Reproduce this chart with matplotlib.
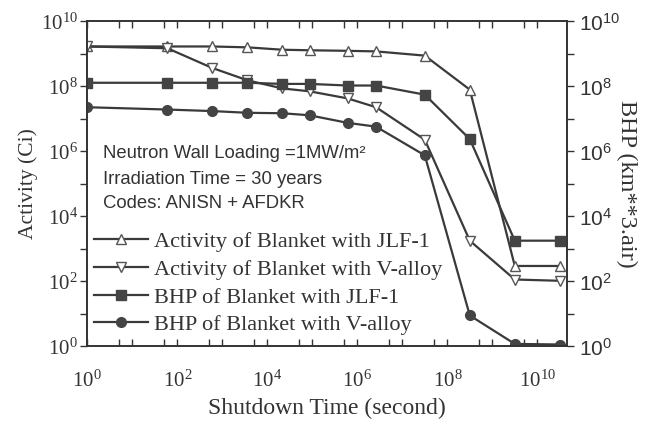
import numpy as np
import matplotlib
matplotlib.use('Agg')
import matplotlib.pyplot as plt
from matplotlib.ticker import FixedLocator, FuncFormatter, NullFormatter

plt.rcParams['mathtext.fontset'] = 'custom'
plt.rcParams['mathtext.rm'] = 'Liberation Serif'
plt.rcParams['mathtext.it'] = 'Liberation Serif:italic'
plt.rcParams['mathtext.bf'] = 'Liberation Serif:bold'
plt.rcParams['mathtext.sf'] = 'Liberation Sans'

# shutdown times (s)
times = [1, 60, 600, 3600, 2.16e4, 8.64e4, 6.05e5, 2.6e6, 3.15e7, 3.15e8, 3.15e9, 3.15e10]

# activity (Ci)
act_jlf = [1.7e9, 1.7e9, 1.7e9, 1.6e9, 1.35e9, 1.3e9, 1.25e9, 1.2e9, 8.9e8, 8.0e7, 3.0e2, 3.0e2]
act_v = [1.7e9, 1.5e9, 3.7e8, 1.55e8, 8.7e7, 7.1e7, 4.3e7, 2.3e7, 2.3e6, 1.8e3, 1.15e2, 1.05e2]

# BHP (km**3 air)
bhp_jlf = [1.3e8, 1.3e8, 1.3e8, 1.3e8, 1.2e8, 1.2e8, 1.07e8, 1.07e8, 5.6e7, 2.4e6, 1.8e3, 1.8e3]
bhp_v = [2.3e7, 1.95e7, 1.75e7, 1.55e7, 1.5e7, 1.3e7, 7.6e6, 5.8e6, 7.6e5, 9.0e0, 1.2e0, 1.15e0]

labels = ['Activity of Blanket with JLF-1', 'Activity of Blanket with V-alloy',
          'BHP of Blanket with JLF-1', 'BHP of Blanket with V-alloy']

lc = '#3a3a3a'
serif = 'Liberation Serif'
sans = 'Liberation Sans'

fig = plt.figure(figsize=(6.47, 4.21), dpi=100)
ax = fig.add_axes([0.135, 0.177, 0.741, 0.772])
ax2 = ax.twinx()

h1, = ax.plot(times, act_jlf, '-', color=lc, lw=1.6, marker='^', ms=7.5,
              mfc='white', mec='#555555', mew=1.0)
h2, = ax.plot(times, act_v, '-', color=lc, lw=1.6, marker='v', ms=7.5,
              mfc='white', mec='#555555', mew=1.0)
h3, = ax2.plot(times, bhp_jlf, '-', color=lc, lw=1.6, marker='s', ms=6.5,
               mfc='#444444', mec='#444444')
h4, = ax2.plot(times, bhp_v, '-', color=lc, lw=1.6, marker='o', ms=7,
               mfc='#444444', mec='#444444')

for a in (ax, ax2):
    a.set_xscale('log')
    a.set_yscale('log')
    a.set_ylim(1, 1e10)
    a.set_xlim(1, 4.5e10)
    a.yaxis.set_major_locator(FixedLocator([10.0 ** k for k in range(0, 11)]))
    a.yaxis.set_minor_locator(FixedLocator([]))
    a.yaxis.set_minor_formatter(NullFormatter())
    for s in a.spines.values():
        s.set_linewidth(1.2)
        s.set_color('#333333')

ax.xaxis.set_major_locator(FixedLocator([10.0 ** k for k in range(0, 11)]))
ax.xaxis.set_minor_locator(FixedLocator([5 * 10.0 ** k for k in range(0, 11)]))
ax.xaxis.set_minor_formatter(NullFormatter())

def even_serif(v, pos):
    k = int(round(np.log10(v)))
    return r'$\mathrm{10^{%d}}$' % k if k % 2 == 0 else ''

def even_sans(v, pos):
    k = int(round(np.log10(v)))
    return r'$\mathsf{10^{%d}}$' % k if k % 2 == 0 else ''

ax.xaxis.set_major_formatter(FuncFormatter(even_serif))
ax.yaxis.set_major_formatter(FuncFormatter(even_serif))
ax2.yaxis.set_major_formatter(FuncFormatter(even_sans))

ax.tick_params(axis='x', which='both', direction='in', top=True, length=5,
               width=1.0, labelsize=15, pad=17, colors='#333333')
ax.tick_params(axis='y', which='both', direction='out', length=5, width=1.0,
               labelsize=15, pad=2, colors='#333333')
ax2.tick_params(axis='y', which='both', direction='out', length=5, width=1.0,
                labelsize=15, pad=4, colors='#333333')

ax.set_xlabel('Shutdown Time (second)', family=serif, fontsize=17, color='#333333', labelpad=5)
ax.set_ylabel('Activity (Ci)', family=serif, fontsize=15.5, color='#333333', labelpad=2)
ax2.set_ylabel('BHP (km**3.air)', family=serif, fontsize=17.5, color='#333333',
               rotation=270, labelpad=12)

ax.text(0.032, 0.595, 'Neutron Wall Loading =1MW/m\u00b2', transform=ax.transAxes,
        family=sans, fontsize=13.3, color='#333333', va='center')
ax.text(0.032, 0.513, 'Irradiation Time = 30 years', transform=ax.transAxes,
        family=sans, fontsize=13.3, color='#333333', va='center')
ax.text(0.032, 0.44, 'Codes: ANISN + AFDKR', transform=ax.transAxes,
        family=sans, fontsize=13.3, color='#333333', va='center')

leg = ax.legend([h1, h2, h3, h4], labels, loc='upper left', bbox_to_anchor=(0.005, 0.367),
                frameon=False, prop={'family': serif, 'size': 16}, handlelength=2.4,
                handletextpad=0.27, labelspacing=0.32, borderpad=0.2, borderaxespad=0.0)
for t in leg.get_texts():
    t.set_color('#333333')

fig.savefig('out.png', dpi=100)
